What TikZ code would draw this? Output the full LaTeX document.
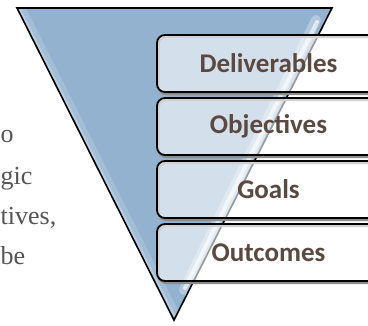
\documentclass[tikz,border=0pt]{standalone}
\usepackage{fontspec}
\setmainfont{Liberation Serif}
\newfontfamily\boxfont{Carlito}

\newlength{\du}
\setlength{\du}{1pt}

\definecolor{funnelblue}{rgb}{0.572549, 0.698039, 0.811765}
\definecolor{labelbrown}{rgb}{0.352941, 0.282353, 0.254902}
\definecolor{paratextgray}{rgb}{0.330000, 0.330000, 0.330000}

\tikzset{
  levelbox/.style={draw=black, line width=1.8\du, rounded corners=8\du,
    fill=white, fill opacity=0.6, text opacity=1,
    minimum width=223\du, minimum height=57\du, inner sep=0pt,
    text=labelbrown, font=\boxfont\bfseries\fontsize{27}{32}\selectfont},
  levelshadow/.style={draw=black!45, line width=2.2\du, rounded corners=8\du},
  paratext/.style={anchor=base west, inner sep=0pt, text=paratextgray,
    font=\fontsize{26}{30}\selectfont},
}

\begin{document}
\begin{tikzpicture}
\pgftransformxscale{1.000000}
\pgftransformyscale{-1.000000}
\useasboundingbox (0\du,0\du) rectangle (368\du,326\du);
\clip (0\du,0\du) rectangle (368\du,326\du);
% text of the page left of the picture
\node[paratext] (parato) at (0.5\du,143\du){o};
\node[paratext] (paragic) at (0.5\du,185\du){gic};
\node[paratext] (paratives) at (0.5\du,225\du){tives,};
\node[paratext] (parabe) at (0.5\du,265\du){be};
% funnel
\fill[funnelblue] (17\du,8\du)--(332\du,8\du)--(174\du,320\du)--cycle;
\begin{scope}
\clip (17\du,8\du)--(332\du,8\du)--(174\du,320\du)--cycle;
\draw[white, opacity=0.15, line width=16\du] (17\du,8\du)--(174\du,320\du);
\draw[white, opacity=0.25, line width=6\du] (17\du,8\du)--(174\du,320\du);
% was here!!!
\draw[white, opacity=0.3, line width=10\du, line cap=round] (316\du,20\du)--(184\du,290\du);
\draw[white, opacity=0.6, line width=4\du, line cap=round] (317\du,22\du)--(185\du,288\du);
\end{scope}
\draw[black, line width=1.6\du, line join=miter] (17\du,8\du)--(332\du,8\du)--(174\du,320\du)--cycle;
% levels
\draw[levelshadow] (158.5\du,37\du) rectangle (381.5\du,94\du);
\node[levelbox] (deliverables) at (268.5\du,63.5\du){Deliverables};
\draw[levelshadow] (158.5\du,100\du) rectangle (381.5\du,157\du);
\node[levelbox] (objectives) at (268.5\du,126.5\du){Objectives};
\draw[levelshadow] (158.5\du,163\du) rectangle (381.5\du,220\du);
\node[levelbox] (goals) at (268.5\du,189.5\du){Goals};
\draw[levelshadow] (158.5\du,226\du) rectangle (381.5\du,283\du);
\node[levelbox] (outcomes) at (268.5\du,252.5\du){Outcomes};
\end{tikzpicture}
\end{document}
